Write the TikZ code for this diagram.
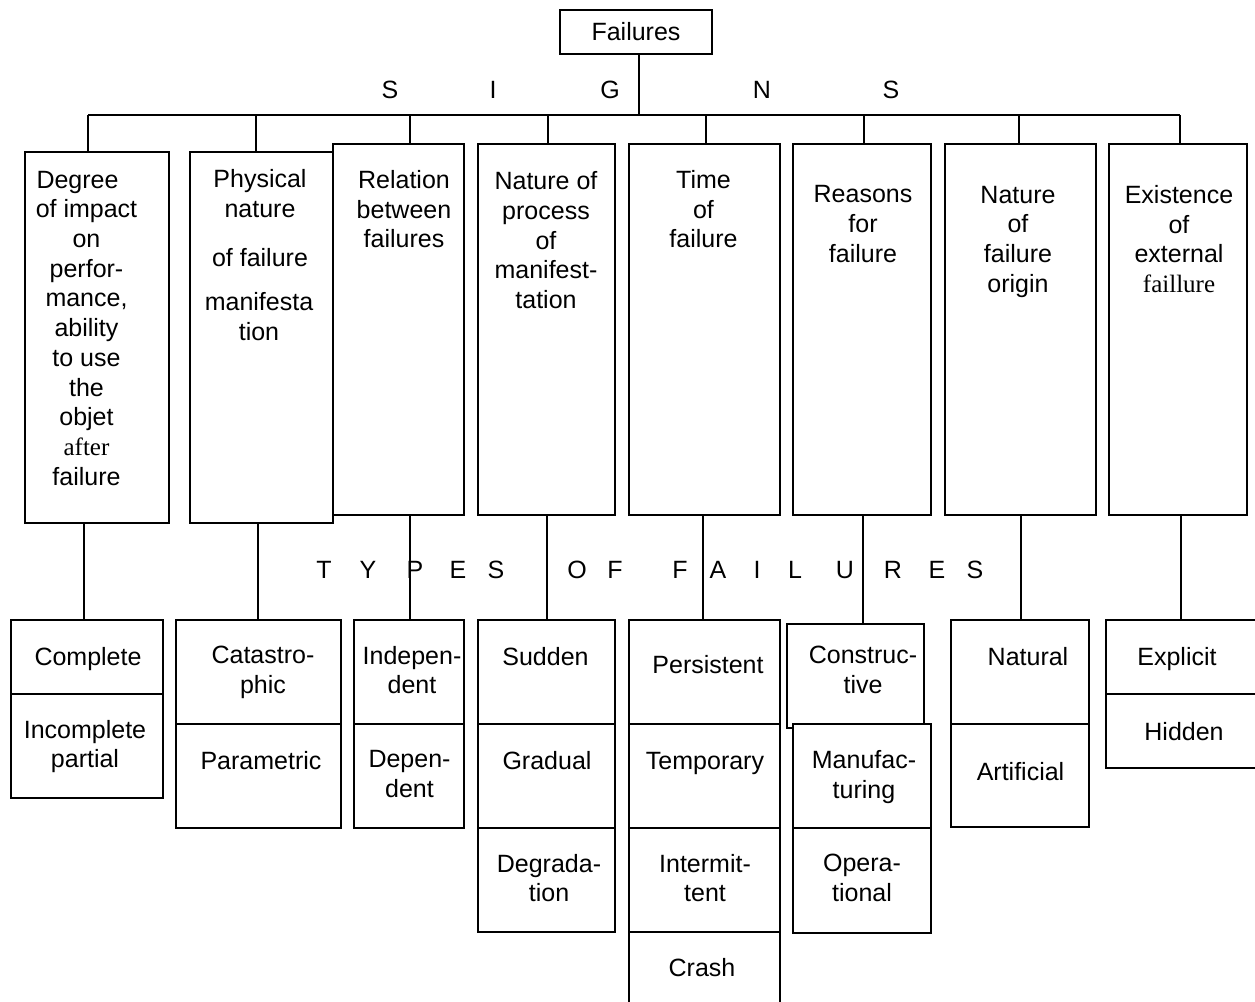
\documentclass[tikz,border=0pt]{standalone}
\usepackage{fontspec}
\setmainfont{Liberation Sans}
\newfontfamily\timesfont{Liberation Serif}
% framed box given by its corners (x1,y1) and (x2,y2)
\newcommand\boxcell[5]{%
  \node[frame, minimum width={#4-#2}, minimum height={#5-#3}] (#1)
    at ({(#2+#4)/2},{(#3+#5)/2}) {};}
\begin{document}
\begin{tikzpicture}[x=1pt,y=-1pt,
  every node/.style={font=\fontsize{25}{29.7}\selectfont},
  frame/.style={draw, line width=1.8pt, fill=white, inner sep=0pt, outer sep=0pt},
  link/.style={line width=1.8pt},
  lbl/.style={align=center, inner sep=0pt, outer sep=0pt, yshift=-3pt,
    execute at begin node=\strut, execute at end node=\strut},
]
\useasboundingbox (0,0) rectangle (1255,1001);
\clip (0,0) rectangle (1255,1001);

% ---- root ----
\boxcell{fail}{560}{10}{712}{54}
\node[lbl] (tFail) at (636,32) {Failures};

% ---- signs bar ----
\coordinate (k1) at (88,115);
\coordinate (k2) at (256,115);
\coordinate (k3) at (410,115);
\coordinate (k4) at (548,115);
\coordinate (k5) at (706,115);
\coordinate (k6) at (864,115);
\coordinate (k7) at (1019,115);
\coordinate (k8) at (1180,115);
\draw[link] ([xshift=3pt]fail.south) -- ([xshift=3pt]fail.south |- k1);
\draw[link] (k1) -- (k8);

\foreach \ch/\xx [count=\i] in {S/390, I/493, G/610, N/762, S/891}
  \node[lbl] (sg\i) at (\xx,90) {\ch};

% ---- signs (top row) ----
\boxcell{deg}{25}{152}{169}{523}
\boxcell{phys}{190}{152}{333}{523}
\boxcell{rel}{333}{144}{464}{515}
\boxcell{proc}{478}{144}{615}{515}
\boxcell{time}{629}{144}{780}{515}
\boxcell{reas}{793}{144}{931}{515}
\boxcell{orig}{945}{144}{1096}{515}
\boxcell{exis}{1109}{144}{1247}{515}

\draw[link] (k1) -- (k1 |- deg.north);
\draw[link] (k2) -- (k2 |- phys.north);
\draw[link] (k3) -- (k3 |- rel.north);
\draw[link] (k4) -- (k4 |- proc.north);
\draw[link] (k5) -- (k5 |- time.north);
\draw[link] (k6) -- (k6 |- reas.north);
\draw[link] (k7) -- (k7 |- orig.north);
\draw[link] (k8) -- (k8 |- exis.north);

\node[lbl] (tDeg) at (86.5,329.5) {Degree\hspace*{18pt}\\of impact\\on\\perfor-\\mance,\\ability\\to use\\the\\objet\\{\timesfont after}\\failure};
\node[lbl] (tPhysA) at (260,195) {Physical\\nature};
\node[lbl] (tPhysB) at (260,258) {of failure};
\node[lbl] (tPhysC) at (259,318) {manifesta\\tion};
\node[lbl] (tRel) at (404,210.5) {Relation\\between\\failures};
\node[lbl] (tProc) at (546,241.5) {Nature of\\process\\of\\manifest-\\tation};
\node[lbl] (tTime) at (703.5,210.5) {Time\\of\\failure};
\node[lbl] (tReas) at (863,225.5) {Reasons\\for\\failure};
\node[lbl] (tOrig) at (1018,240.5) {Nature\\of\\failure\\origin};
\node[lbl] (tExis) at (1179,240.5) {Existence\\of\\external\\{\timesfont faillure}};

% ---- types of failures ----
\foreach \ch/\xx [count=\i] in {T/324, Y/368, P/415, E/458, S/496, O/577, F/615,
    F/680, A/718, I/757, L/795, U/845, R/893, E/937, S/975}
  \node[lbl] (ty\i) at (\xx,570) {\ch};

% ---- types (bottom rows) ----
\boxcell{cmp}{11}{620}{163}{694}
\boxcell{inc}{11}{694}{163}{798}
\boxcell{cat}{176}{620}{341}{724}
\boxcell{par}{176}{724}{341}{828}
\boxcell{ind}{354}{620}{464}{724}
\boxcell{dep}{354}{724}{464}{828}
\boxcell{sud}{478}{620}{615}{724}
\boxcell{gra}{478}{724}{615}{828}
\boxcell{dgr}{478}{828}{615}{932}
\boxcell{per}{629}{620}{780}{724}
\boxcell{tem}{629}{724}{780}{828}
\boxcell{inm}{629}{828}{780}{932}
\boxcell{cra}{629}{932}{780}{1040}
\boxcell{con}{787}{624}{924}{728}
\boxcell{man}{793}{724}{931}{828}
\boxcell{ope}{793}{828}{931}{933}
\boxcell{nat}{951}{620}{1089}{724}
\boxcell{art}{951}{724}{1089}{827}
\boxcell{exp}{1106}{620}{1275}{694}
\boxcell{hid}{1106}{694}{1275}{768}

\draw[link] ([xshift=-13pt]deg.south) -- ([xshift=-13pt]deg.south |- cmp.north);
\draw[link] ([xshift=-3.5pt]phys.south) -- ([xshift=-3.5pt]phys.south |- cat.north);
\draw[link] ([xshift=11.5pt]rel.south) -- ([xshift=11.5pt]rel.south |- ind.north);
\draw[link] ([xshift=0.5pt]proc.south) -- ([xshift=0.5pt]proc.south |- sud.north);
\draw[link] ([xshift=-1.5pt]time.south) -- ([xshift=-1.5pt]time.south |- per.north);
\draw[link] ([xshift=1pt]reas.south) -- ([xshift=1pt]reas.south |- con.north);
\draw[link] ([xshift=0.5pt]orig.south) -- ([xshift=0.5pt]orig.south |- nat.north);
\draw[link] ([xshift=3pt]exis.south) -- ([xshift=3pt]exis.south |- exp.north);

\node[lbl] (tCmp) at (88,657) {Complete};
\node[lbl] (tInc) at (85,745.5) {Incomplete\\partial};
\node[lbl] (tCat) at (263,671.5) {Catastro-\\phic};
\node[lbl] (tPar) at (261,761) {Parametric};
\node[lbl] (tInd) at (412,671.5) {Indepen-\\dent};
\node[lbl] (tDep) at (409.5,775.5) {Depen-\\dent};
\node[lbl] (tSud) at (545.5,657) {Sudden};
\node[lbl] (tGra) at (547,761) {Gradual};
\node[lbl] (tDgr) at (549,879.5) {Degrada-\\tion};
\node[lbl] (tPer) at (708,665) {Persistent};
\node[lbl] (tTem) at (705,761) {Temporary};
\node[lbl] (tInm) at (705,879.5) {Intermit-\\tent};
\node[lbl] (tCra) at (702,968) {Crash};
\node[lbl] (tCon) at (863,671.5) {Construc-\\tive};
\node[lbl] (tMan) at (864,776) {Manufac-\\turing};
\node[lbl] (tOpe) at (862,879.5) {Opera-\\tional};
\node[lbl] (tNat) at (1028,657) {Natural};
\node[lbl] (tArt) at (1020.5,772) {Artificial};
\node[lbl] (tExp) at (1177,657) {Explicit};
\node[lbl] (tHid) at (1184,732) {Hidden};
\end{tikzpicture}
\end{document}
